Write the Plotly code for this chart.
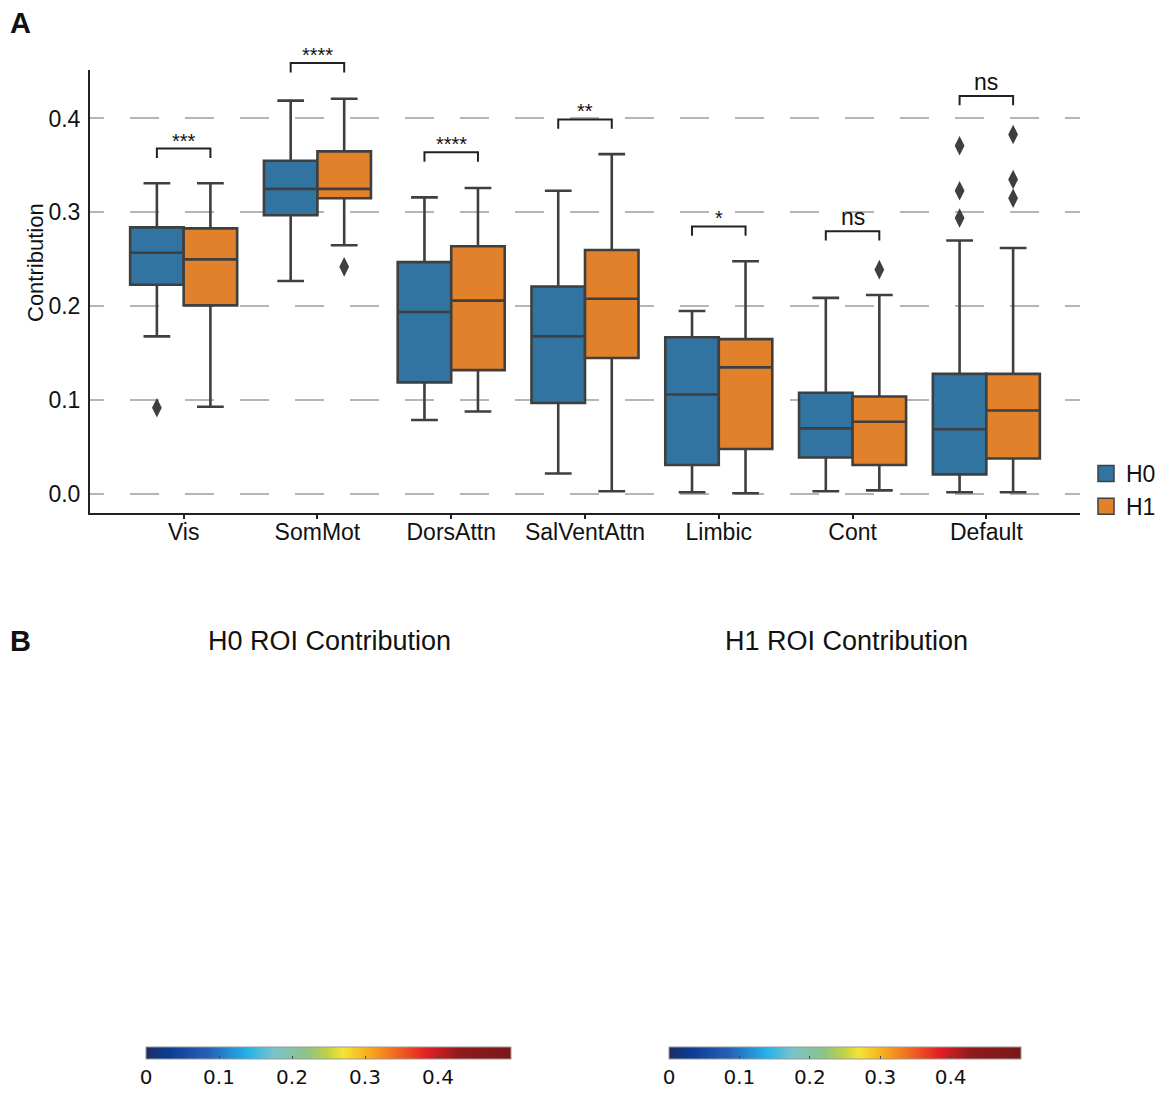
import plotly.graph_objects as go

# ---- data ----
networks = ["Vis", "SomMot", "DorsAttn", "SalVentAttn", "Limbic", "Cont", "Default"]

h0_q1 = [0.223, 0.297, 0.119, 0.097, 0.031, 0.039, 0.021]
h0_med = [0.257, 0.325, 0.194, 0.168, 0.106, 0.070, 0.069]
h0_q3 = [0.284, 0.355, 0.247, 0.221, 0.167, 0.108, 0.128]
h0_lo = [0.168, 0.227, 0.079, 0.022, 0.002, 0.003, 0.002]
h0_hi = [0.331, 0.419, 0.316, 0.323, 0.195, 0.209, 0.270]

h1_q1 = [0.201, 0.315, 0.132, 0.145, 0.048, 0.031, 0.038]
h1_med = [0.250, 0.325, 0.206, 0.208, 0.135, 0.077, 0.089]
h1_q3 = [0.283, 0.365, 0.264, 0.260, 0.165, 0.104, 0.128]
h1_lo = [0.093, 0.265, 0.088, 0.003, 0.001, 0.004, 0.002]
h1_hi = [0.331, 0.421, 0.326, 0.362, 0.248, 0.212, 0.262]

# outliers: (network index, value)
h0_out_idx = [0, 6, 6, 6]
h0_out_val = [0.092, 0.294, 0.323, 0.371]
h1_out_idx = [1, 5, 6, 6, 6]
h1_out_val = [0.242, 0.239, 0.315, 0.335, 0.383]

sig_labels = ["***", "****", "****", "**", "*", "ns", "ns"]
sig_y = [0.368, 0.459, 0.364, 0.399, 0.285, 0.280, 0.424]

cbar_ticks = [0, 0.1, 0.2, 0.3, 0.4]

# ---- styling ----
C_H0 = "#3274a1"
C_H1 = "#e1812c"
EDGE = "#3f3f3f"
FONT = "Liberation Sans"
# page has an 8px body margin; keep the figure inside the window
OFF = 8
W, H = 1169 - 2 * OFF, 1093 - OFF


def px(x):
    return (x - OFF) / W


def py(y):
    return 1 - (y - OFF) / H


Y0, Y1 = -0.0201, 0.4516          # main y range
TOP_PX, BOT_PX, EXT_PX = 70, 513, 20
# taller invisible axis with the same scale, so brackets above the axis top aren't clipped
Y1_EXT = Y1 + (TOP_PX - EXT_PX) * (Y1 - Y0) / (BOT_PX - TOP_PX)

jet_like = [
    [0.0, "#1e2d64"], [0.06, "#0c3c92"], [0.17, "#2560b5"],
    [0.28, "#24b4e8"], [0.35, "#79c3cd"], [0.44, "#8dc384"],
    [0.50, "#c4d244"], [0.54, "#f3e533"], [0.62, "#f8a21c"],
    [0.70, "#ef5a22"], [0.77, "#e31e24"], [0.86, "#8e1b1d"],
    [1.0, "#7c1619"],
]

fig = go.Figure()

for grp, color, q1, med, q3, lo, hi, off in [
    ("H0", C_H0, h0_q1, h0_med, h0_q3, h0_lo, h0_hi, -0.2),
    ("H1", C_H1, h1_q1, h1_med, h1_q3, h1_lo, h1_hi, 0.2),
]:
    fig.add_trace(go.Box(
        x=[i + off for i in range(len(networks))],
        q1=q1, median=med, q3=q3, lowerfence=lo, upperfence=hi,
        width=0.4, whiskerwidth=0.5, fillcolor=color,
        line=dict(color=EDGE, width=2.6),
        boxpoints=False, showlegend=False, name=grp,
    ))

fig.add_trace(go.Scatter(
    x=[i - 0.2 for i in h0_out_idx] + [i + 0.2 for i in h1_out_idx],
    y=h0_out_val + h1_out_val, mode="markers",
    marker=dict(symbol="diamond-tall", size=14, color=EDGE),
    showlegend=False, hoverinfo="skip",
))

# legend entries
for grp, color in [("H0", C_H0), ("H1", C_H1)]:
    fig.add_trace(go.Scatter(
        x=[None], y=[None], mode="markers", name=grp, legendgroup=grp,
        marker=dict(symbol="square", size=17, color=color,
                    line=dict(color=EDGE, width=1.5)),
    ))

# significance brackets (on the taller overlay axis)
for i, (lab, yb) in enumerate(zip(sig_labels, sig_y)):
    x0, x1 = i - 0.2, i + 0.2
    fig.add_shape(type="path",
                  path=f"M {x0},{yb - 0.01} L {x0},{yb} L {x1},{yb} L {x1},{yb - 0.01}",
                  line=dict(color="#222222", width=2), xref="x2", yref="y2")
    fig.add_annotation(x=i, y=yb, text=lab, showarrow=False, xref="x2", yref="y2",
                       xanchor="center", yanchor="bottom",
                       yshift=-5 if lab != "ns" else -1,
                       font=dict(family=FONT, size=20 if lab != "ns" else 23, color="#111"))

# colorbars for the ROI maps (panel B)
for x0c, x1c in [(146, 511), (669, 1021)]:
    fig.add_trace(go.Scatter(
        x=[None], y=[None], mode="markers", showlegend=False,
        marker=dict(color=[0], colorscale=jet_like, cmin=0, cmax=0.5, showscale=True,
                    colorbar=dict(orientation="h", x=px((x0c + x1c) / 2), xanchor="center",
                                  y=py(1047), yanchor="top",
                                  lenmode="pixels", len=x1c - x0c, thickness=12,
                                  xpad=0, ypad=0, outlinewidth=1, outlinecolor="#999",
                                  tickvals=cbar_ticks, ticktext=[f"{t:g}" for t in cbar_ticks],
                                  ticks="inside", ticklen=3, tickcolor="#444",
                                  tickfont=dict(family="DejaVu Sans", size=20, color="#111"))),
    ))

# panel labels and titles
for lab, yy in [("A", 5), ("B", 623)]:
    fig.add_annotation(x=px(OFF), y=py(yy), xref="paper", yref="paper", text=f"<b>{lab}</b>",
                       showarrow=False, xanchor="left", yanchor="top",
                       font=dict(family=FONT, size=29, color="#111"))
fig.add_annotation(x=px(36), y=py(263), xref="paper", yref="paper", text="Contribution",
                   showarrow=False, textangle=-90, xanchor="center", yanchor="middle",
                   font=dict(family=FONT, size=22, color="#111"))
for xc, t in [(329, "H0 ROI Contribution"), (846, "H1 ROI Contribution")]:
    fig.add_annotation(x=px(xc), y=py(641), xref="paper", yref="paper", text=t,
                       showarrow=False, xanchor="center", yanchor="middle",
                       font=dict(family=FONT, size=27, color="#111"))

xdom = [px(90), px(1080)]
fig.update_layout(
    width=W, height=H,
    margin=dict(l=0, r=0, t=0, b=0, autoexpand=False),
    plot_bgcolor="rgba(0,0,0,0)", paper_bgcolor="white",
    font=dict(family=FONT, size=23, color="#111"),
    xaxis=dict(domain=xdom, range=[-0.7, 6.7],
               tickvals=list(range(len(networks))), ticktext=networks,
               showgrid=False, zeroline=False, showline=True, linecolor="#222", linewidth=2,
               ticks="outside", ticklen=4, tickwidth=1.5, tickcolor="#222",
               ticklabelstandoff=-7, tickfont=dict(size=23)),
    yaxis=dict(domain=[py(BOT_PX), py(TOP_PX)], range=[Y0, Y1],
               tickvals=[0, 0.1, 0.2, 0.3, 0.4], tickformat=".1f",
               showgrid=True, gridcolor="#b5b5b5", gridwidth=1.6, griddash="14px,26px,15px,0px",
               zeroline=False, showline=True, linecolor="#222", linewidth=2,
               ticks="", ticklabelstandoff=3, tickfont=dict(size=23)),
    xaxis2=dict(domain=xdom, range=[-0.7, 6.7], anchor="y2", visible=False),
    yaxis2=dict(domain=[py(BOT_PX), py(EXT_PX)], range=[Y0, Y1_EXT], anchor="x2", visible=False),
    legend=dict(x=1.0, y=py(452), xanchor="right", yanchor="top",
                font=dict(family=FONT, size=23), itemsizing="trace", itemwidth=30,
                bgcolor="rgba(0,0,0,0)", tracegroupgap=0),
)

fig.write_html("out.html")
